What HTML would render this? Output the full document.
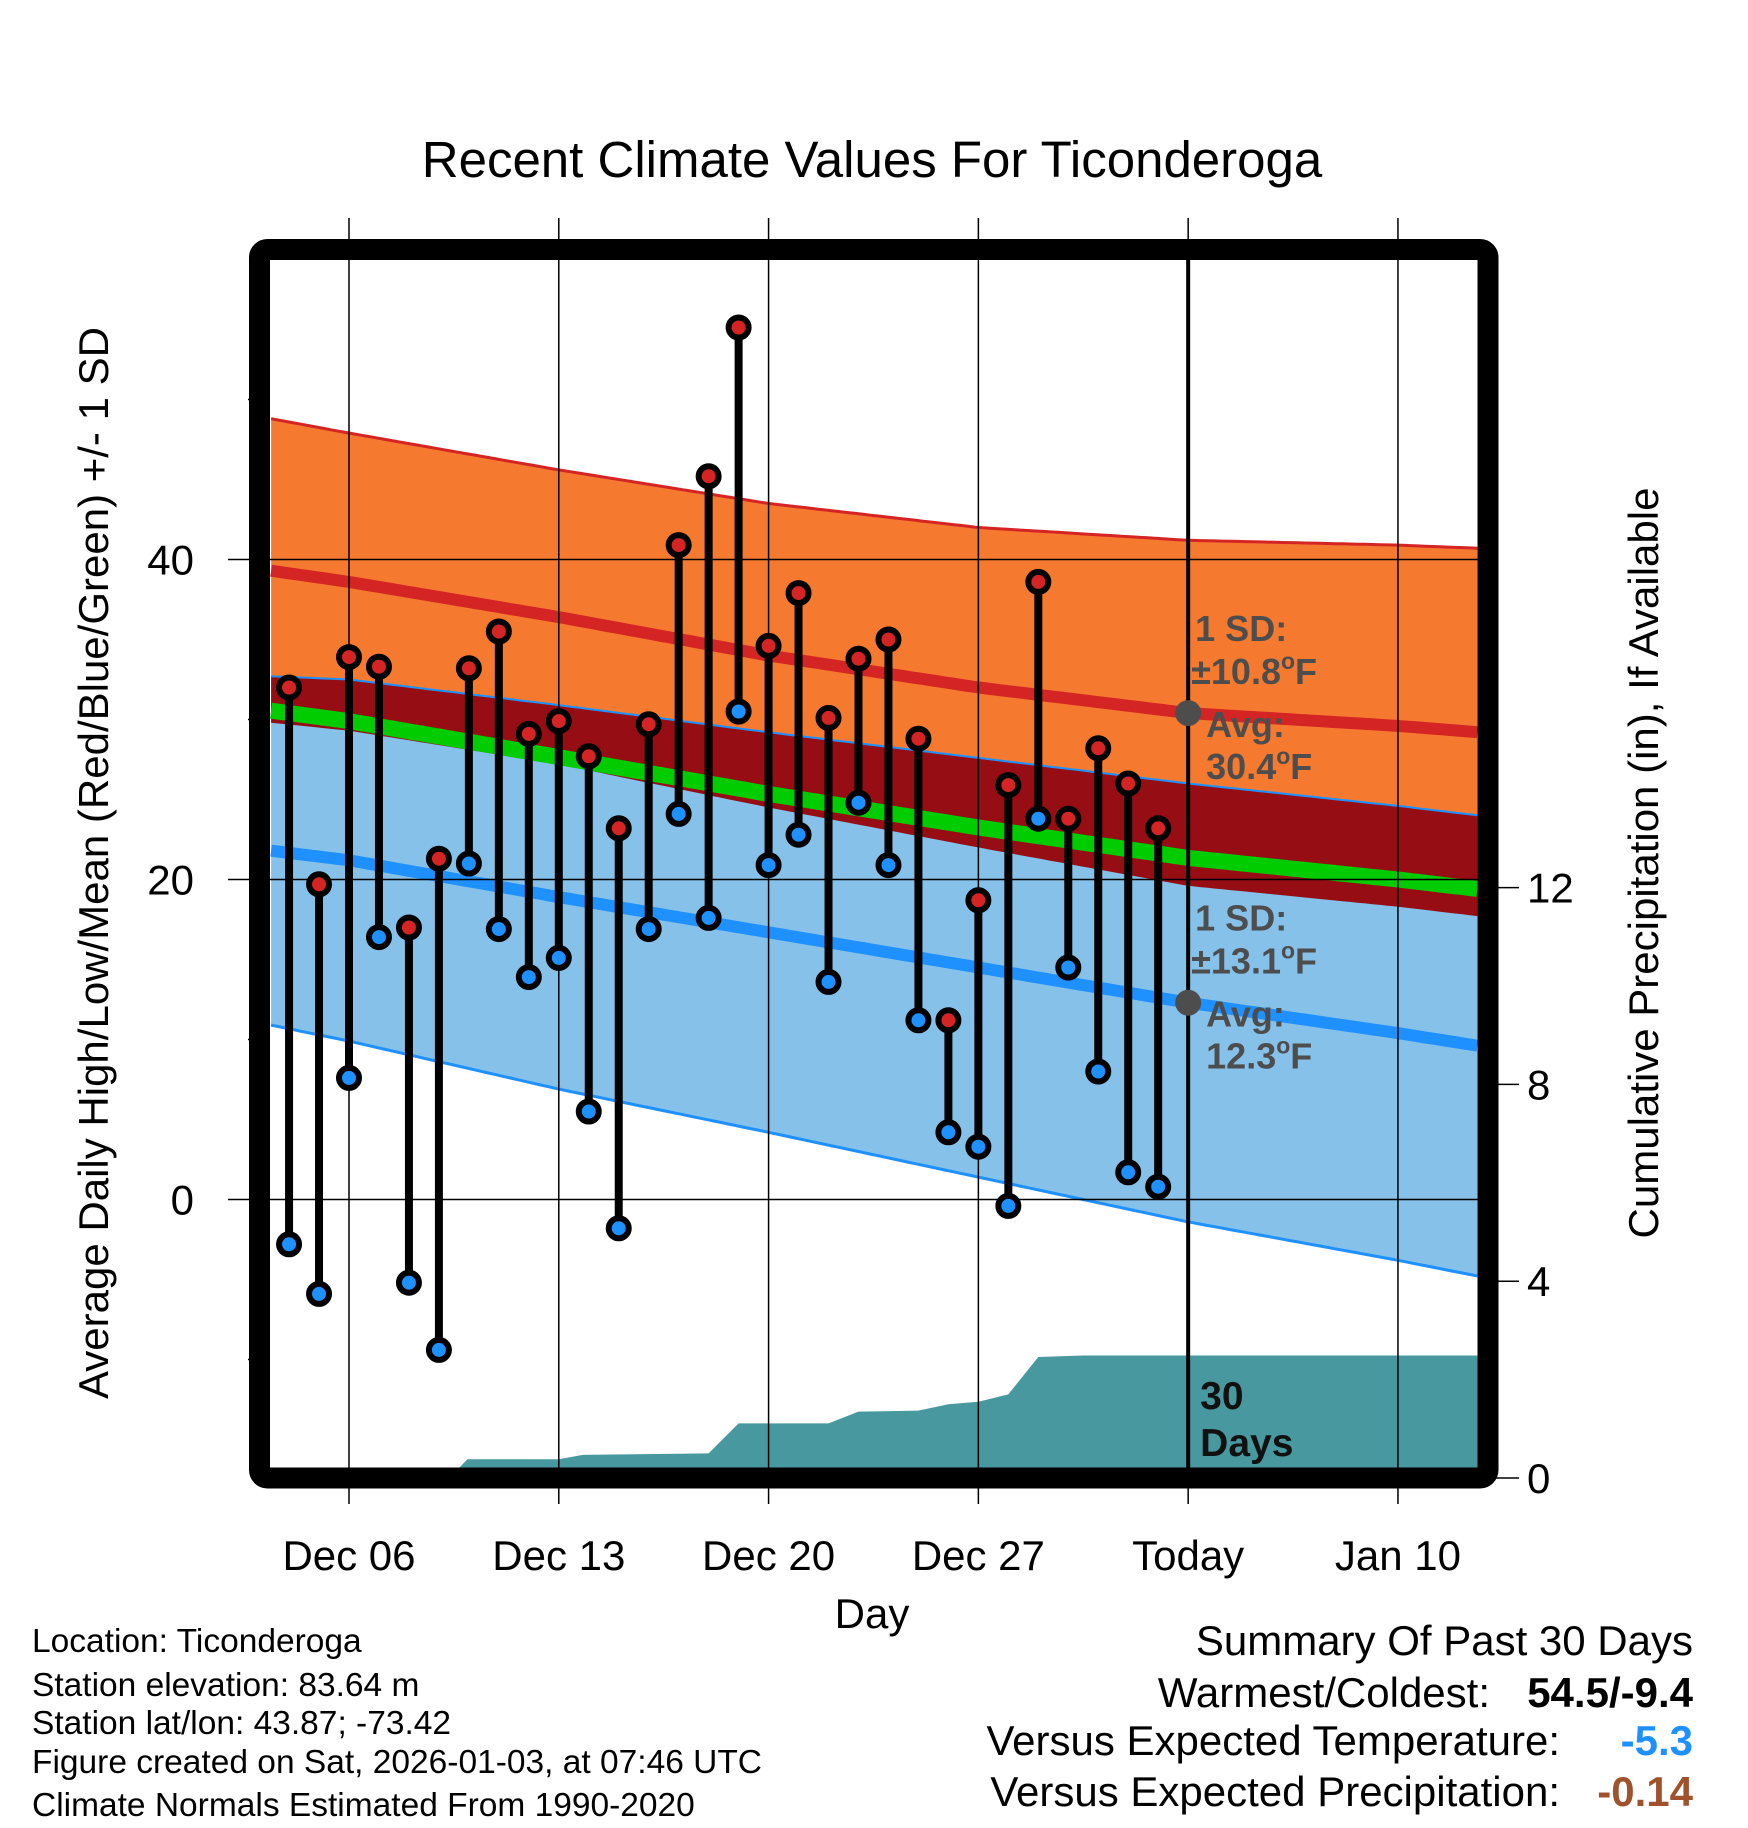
<!DOCTYPE html>
<html><head><meta charset="utf-8"><style>
html,body{margin:0;padding:0;background:#fff;}
svg{display:block;font-family:"Liberation Sans",Arial,sans-serif;}
</style></head><body>
<svg id="chart" xmlns="http://www.w3.org/2000/svg" width="1748" height="1828" viewBox="0 0 1748 1828">
<defs><clipPath id="plotclip"><rect x="270" y="260" width="1208" height="1208"/></clipPath></defs>
<text x="872" y="177" font-size="51" text-anchor="middle">Recent Climate Values For Ticonderoga</text>
<g id="bands" clip-path="url(#plotclip)"></g>
<g id="grid"></g>
<g id="marks"></g>
<rect x="259.5" y="249.5" width="1228.5" height="1228.5" rx="8" fill="none" stroke="#000" stroke-width="21"/>
<g id="labels"></g>
<text transform="translate(108,863) rotate(-90)" font-size="42" text-anchor="middle">Average Daily High/Low/Mean (Red/Blue/Green) +/- 1 SD</text>
<text transform="translate(1658,863) rotate(-90)" font-size="42" text-anchor="middle">Cumulative Precipitation (in), If Available</text>
<text x="872" y="1628" font-size="42" text-anchor="middle">Day</text>
<g font-size="33.5">
<text x="32" y="1652">Location: Ticonderoga</text>
<text x="32" y="1696">Station elevation: 83.64 m</text>
<text x="32" y="1734">Station lat/lon: 43.87; -73.42</text>
<text x="32" y="1773">Figure created on Sat, 2026-01-03, at 07:46 UTC</text>
<text x="32" y="1816">Climate Normals Estimated From 1990-2020</text>
</g>
<g font-size="42" text-anchor="end">
<text x="1693" y="1655">Summary Of Past 30 Days</text>
<text x="1490" y="1707">Warmest/Coldest:</text>
<text x="1693" y="1707" font-weight="bold">54.5/-9.4</text>
<text x="1560" y="1755">Versus Expected Temperature:</text>
<text x="1693" y="1755" font-weight="bold" fill="#1e90ff">-5.3</text>
<text x="1560" y="1806">Versus Expected Precipitation:</text>
<text x="1693" y="1806" font-weight="bold" fill="#a0522d">-0.14</text>
</g>
</svg>
<script>
// day offsets are relative to Dec 06
const obsDays = [-2,-1,0,1,2,3,4,5,6,7,8,9,10,11,12,13,14,15,16,17,18,19,20,21,22,23,24,25,26,27];
const highs = [32.0,19.7,33.9,33.3,17.0,21.3,33.2,35.5,29.1,29.9,27.7,23.2,29.7,40.9,45.2,54.5,34.6,37.9,30.1,33.8,35.0,28.8,11.2,18.7,25.9,38.6,23.8,28.2,26.0,23.2];
const lows = [-2.8,-5.9,7.6,16.4,-5.2,-9.4,21.0,16.9,13.9,15.1,5.5,-1.8,16.9,24.1,17.6,30.5,20.9,22.8,13.6,24.8,20.9,11.2,4.2,3.3,-0.4,23.8,14.5,8.0,1.7,0.8];
const normDays = [-2.6,0,7,14,21,28,35,37.7];
const normHigh = [39.3,38.6,36.4,34.0,32.0,30.4,29.6,29.2];
const normHighSD = [9.5,9.3,9.2,9.5,10.0,10.8,11.3,11.5];
const normLow = [21.8,21.2,18.9,16.7,14.5,12.3,10.4,9.6];
const normLowSD = [10.9,11.3,12.0,12.5,13.1,13.7,14.2,14.4];
const precipDays = [-2.6,3.35,3.95,7.0,7.8,12.0,13.0,16.0,17.0,19.0,20.0,21.0,22.0,23.0,24.5,37.7];
const precipCum = [0,0,0.38,0.38,0.47,0.5,1.11,1.11,1.35,1.37,1.5,1.55,1.7,2.46,2.49,2.49];
const xTickDays = [0,7,14,21,28,35];
const xTickLabels = ["Dec 06","Dec 13","Dec 20","Dec 27","Today","Jan 10"];
const yTicks = [0,20,40];
const yMinor = [-10,10,30,50];
const pTicks = [0,4,8,12];
const todayDay = 28;

const X = d => 349 + d*29.97;
const Y = v => 1199.5 - 16*v;
const YP = p => 1478 - 49.2*p;
const NS = "http://www.w3.org/2000/svg";
function mk(tag, attrs, parent){const e=document.createElementNS(NS,tag);for(const k in attrs)e.setAttribute(k,attrs[k]);parent.appendChild(e);return e;}
function interp(xs, ys, x){for(let i=0;i<xs.length-1;i++){if(x<=xs[i+1]){const t=(x-xs[i])/(xs[i+1]-xs[i]);return ys[i]+t*(ys[i+1]-ys[i]);}}return ys[ys.length-1];}
const bands=document.getElementById('bands'), grid=document.getElementById('grid'), marks=document.getElementById('marks'), labels=document.getElementById('labels');
const samp=[];for(let d=normDays[0];d<=normDays[normDays.length-1]+0.001;d+=0.25)samp.push(d);
const f=(arr)=>samp.map(d=>interp(normDays,arr,d));
const H=f(normHigh),HS=f(normHighSD),L=f(normLow),LS=f(normLowSD);
const pts=(vals)=>samp.map((d,i)=>X(d).toFixed(1)+','+Y(vals[i]).toFixed(1));
const hTop=H.map((v,i)=>v+HS[i]), hBot=H.map((v,i)=>v-HS[i]), lTop=L.map((v,i)=>v+LS[i]), lBot=L.map((v,i)=>v-LS[i]);
const mean=H.map((v,i)=>(v+L[i])/2);
let e;
e=mk('polygon',{points:pts(hTop).concat(pts(hBot).reverse()).join(' '),fill:'#f57a2f'},bands);

e=mk('polygon',{points:pts(lTop).concat(pts(lBot).reverse()).join(' '),fill:'#85c1e8'},bands);

e=mk('polygon',{points:pts(lTop).concat(pts(hBot).reverse()).join(' '),fill:'#960d14'},bands);

e=mk('polyline',{points:pts(hTop).join(' '),fill:'none',stroke:'#d42424','stroke-width':3},bands);

e=mk('polyline',{points:pts(lTop).join(' '),fill:'none',stroke:'#1e90ff','stroke-width':2},bands);

e=mk('polyline',{points:pts(lBot).join(' '),fill:'none',stroke:'#1e90ff','stroke-width':3},bands);

e=mk('polyline',{points:pts(mean).join(' '),fill:'none',stroke:'#00cc00','stroke-width':16},bands);

e=mk('polyline',{points:pts(H).join(' '),fill:'none',stroke:'#d42424','stroke-width':12},bands);

e=mk('polyline',{points:pts(L).join(' '),fill:'none',stroke:'#1e90ff','stroke-width':12},bands);

// precip area
const pp=precipDays.map((d,i)=>X(d).toFixed(1)+','+YP(precipCum[i]).toFixed(1));
pp.push(X(precipDays[precipDays.length-1]).toFixed(1)+','+1478);pp.push(X(precipDays[0]).toFixed(1)+','+1478);
e=mk('polygon',{points:pp.join(' '),fill:'#48999f'},bands);

// grid
xTickDays.forEach((d,i)=>{
  e=mk('line',{x1:X(d),x2:X(d),y1:218,y2:1504,stroke:'#000','stroke-width':1.5},grid);
  
  e=mk('text',{x:X(d),y:1570,'font-size':42,'text-anchor':'middle'},labels);
  e.textContent=xTickLabels[i];
  
});
yTicks.forEach(v=>{
  e=mk('line',{x1:228,x2:1478,y1:Y(v),y2:Y(v),stroke:'#000','stroke-width':1.5},grid);
  
  e=mk('text',{x:194,y:Y(v)+15,'font-size':42,'text-anchor':'end'},labels);
  e.textContent=v;
  
});
yMinor.forEach(v=>{
  e=mk('line',{x1:248,x2:262,y1:Y(v),y2:Y(v),stroke:'#000','stroke-width':1.5},grid);
  
});
pTicks.forEach(p=>{
  e=mk('line',{x1:1480,x2:1519,y1:YP(p),y2:YP(p),stroke:'#000','stroke-width':1.5},grid);
  
  e=mk('text',{x:1527,y:YP(p)+15,'font-size':42},labels);
  e.textContent=p;
  
});
// today line
e=mk('line',{x1:X(todayDay),x2:X(todayDay),y1:260,y2:1478,stroke:'#000','stroke-width':4},marks);

// stems and points
obsDays.forEach((d,i)=>{
  e=mk('line',{x1:X(d),x2:X(d),y1:Y(highs[i]),y2:Y(lows[i]),stroke:'#000','stroke-width':8},marks);
  
});
obsDays.forEach((d,i)=>{
  e=mk('circle',{cx:X(d),cy:Y(highs[i]),r:10,fill:'#d42424',stroke:'#000','stroke-width':6},marks);
  
  e=mk('circle',{cx:X(d),cy:Y(lows[i]),r:10,fill:'#1e90ff',stroke:'#000','stroke-width':6},marks);
  
});
// annotations
const hT=interp(normDays,normHigh,todayDay), lT=interp(normDays,normLow,todayDay);
const hSD=interp(normDays,normHighSD,todayDay), lSD=10.8+ (13.1-10.8);
e=mk('circle',{cx:X(todayDay),cy:Y(hT),r:13,fill:'#4d4d4d'},marks);

e=mk('circle',{cx:X(todayDay),cy:Y(lT),r:13,fill:'#4d4d4d'},marks);

function ann(x,y,txt,name){const t=mk('text',{x:x,y:y,'font-size':36,'font-weight':'bold',fill:'#4d4d4d'},marks);t.innerHTML=txt;

}
const ax=X(todayDay);
ann(ax+7,Y(hT)-72,'1 SD:','high-sd-label');
ann(ax+3,Y(hT)-29,'±'+hSD.toFixed(1)+'<tspan font-size="23" dy="-15">o</tspan><tspan dy="15">F</tspan>','high-sd-value');
ann(ax+18,Y(hT)+24,'Avg:','high-avg-label');
ann(ax+18,Y(hT)+66,' '+hT.toFixed(1)+'<tspan font-size="23" dy="-15">o</tspan><tspan dy="15">F</tspan>','high-avg-value');
ann(ax+7,Y(lT)-72,'1 SD:','low-sd-label');
ann(ax+3,Y(lT)-29,'±13.1<tspan font-size="23" dy="-15">o</tspan><tspan dy="15">F</tspan>','low-sd-value');
ann(ax+18,Y(lT)+24,'Avg:','low-avg-label');
ann(ax+18,Y(lT)+66,' '+lT.toFixed(1)+'<tspan font-size="23" dy="-15">o</tspan><tspan dy="15">F</tspan>','low-avg-value');
e=mk('text',{x:ax+12,y:1409,'font-size':39,'font-weight':'bold',fill:'#111'},marks);e.textContent='30';

e=mk('text',{x:ax+12,y:1456,'font-size':39,'font-weight':'bold',fill:'#111'},marks);e.textContent='Days';

</script>
</body></html>
